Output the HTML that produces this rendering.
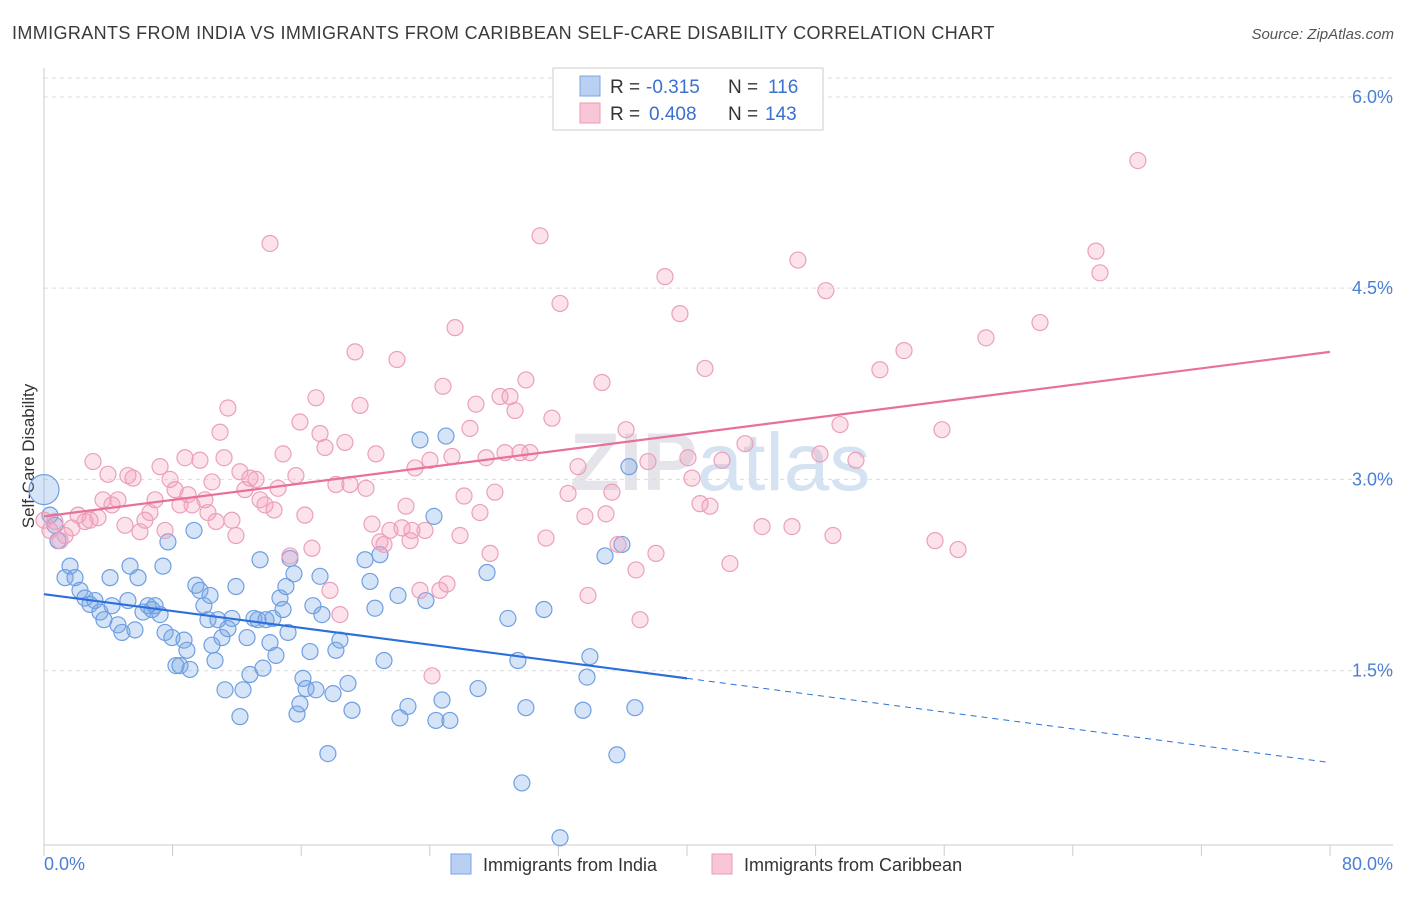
<!DOCTYPE html>
<html><head><meta charset="utf-8"><style>
body{margin:0;background:#fff;font-family:"Liberation Sans",sans-serif}
svg text{font-family:"Liberation Sans",sans-serif}
</style></head><body>
<svg width="1406" height="892" viewBox="0 0 1406 892">
<text x="12" y="39" font-size="18" fill="#3a3a3a" letter-spacing="0.38">IMMIGRANTS FROM INDIA VS IMMIGRANTS FROM CARIBBEAN SELF-CARE DISABILITY CORRELATION CHART</text>
<text x="1394" y="39" font-size="15" fill="#555" font-style="italic" text-anchor="end">Source: ZipAtlas.com</text>
<text x="720" y="490" font-size="82" fill="#e4e4ea" text-anchor="middle" font-family="Liberation Serif" font-weight="bold">ZIP<tspan fill="#d5e2f2" font-family="Liberation Sans" font-weight="normal">atlas</tspan></text>
<g id="grid"></g>
<line x1="44" y1="68" x2="44" y2="845" stroke="#ccc"/>
<line x1="44" y1="845" x2="1393" y2="845" stroke="#ccc"/>
<text transform="translate(34,456) rotate(-90)" font-size="17" fill="#333" text-anchor="middle">Self-Care Disability</text>
<text x="44" y="870" font-size="18" fill="#4a7fd4">0.0%</text>
<text x="1393" y="870" font-size="18" fill="#4a7fd4" text-anchor="end">80.0%</text>
<g id="ylabels"></g>
<g id="pts"></g>
<g id="lines"></g>
<g>
<rect x="553" y="68" width="270" height="62" fill="#fff" stroke="#ccc"/>
<rect x="580" y="76" width="20" height="20" fill="#b9d0f3" stroke="#7aa5e6"/>
<rect x="580" y="103" width="20" height="20" fill="#f8c6d6" stroke="#eb9bb6"/>
<text x="610" y="93" font-size="19" fill="#333">R =</text>
<text x="646" y="93" font-size="19" fill="#3a70d0">-0.315</text>
<text x="728" y="93" font-size="19" fill="#333">N =</text>
<text x="768" y="93" font-size="19" fill="#3a70d0">116</text>
<text x="610" y="120" font-size="19" fill="#333">R =</text>
<text x="649" y="120" font-size="19" fill="#3a70d0">0.408</text>
<text x="728" y="120" font-size="19" fill="#333">N =</text>
<text x="765" y="120" font-size="19" fill="#3a70d0">143</text>
</g>
<g>
<rect x="451" y="854" width="20" height="20" fill="#b9d0f3" stroke="#7aa5e6"/>
<text x="483" y="871" font-size="18" fill="#333">Immigrants from India</text>
<rect x="712" y="854" width="20" height="20" fill="#f8c6d6" stroke="#eb9bb6"/>
<text x="744" y="871" font-size="18" fill="#333">Immigrants from Caribbean</text>
</g>
</svg>
<script>
const yTicks=[1.5,3.0,4.5,6.0];
const yTickLabels=["1.5%","3.0%","4.5%","6.0%"];
const xTicks=[0,8,16,24,32,40,48,56,64,72,80];
const indiaX=[0,.37,.68,.87,1.31,1.62,1.93,2.24,2.55,2.86,3.17,3.48,3.73,4.11,4.23,4.6,4.85,5.22,5.35,5.66,5.85,6.16,6.47,6.72,6.91,7.22,7.4,7.53,7.71,7.96,8.21,8.46,8.71,8.89,9.08,9.33,9.45,9.7,9.95,10.2,10.33,10.45,10.64,10.82,11.07,11.26,11.44,11.69,11.94,12.19,12.38,12.63,12.81,13.06,13.31,13.44,13.62,13.81,14.06,14.24,14.43,14.68,14.87,15.05,15.18,15.3,15.55,15.74,15.92,16.11,16.3,16.55,16.73,16.92,17.17,17.29,17.66,17.98,18.16,18.41,18.91,19.16,19.97,20.28,20.59,20.9,21.15,22.02,22.14,22.64,23.39,23.76,24.26,24.38,24.76,25.01,25.25,27,27.56,28.86,29.48,29.98,29.73,31.1,32.1,33.53,33.78,33.96,34.9,35.64,35.95,36.39,36.76];
const indiaY=[2.92,2.72,2.64,2.52,2.23,2.32,2.23,2.13,2.07,2.02,2.05,1.96,1.9,2.23,2.01,1.86,1.8,2.05,2.32,1.82,2.23,1.96,2.01,1.98,2.01,1.94,2.32,1.8,2.51,1.76,1.54,1.54,1.74,1.66,1.51,2.6,2.17,2.13,2.01,1.9,2.09,1.7,1.58,1.9,1.76,1.35,1.83,1.91,2.16,1.14,1.35,1.76,1.47,1.91,1.9,2.37,1.52,1.9,1.72,1.91,1.62,2.07,1.98,2.16,1.8,2.38,2.26,1.16,1.24,1.44,1.36,1.65,2.01,1.35,2.24,1.94,.85,1.32,1.66,1.74,1.4,1.19,2.37,2.2,1.99,2.41,1.58,2.09,1.13,1.22,3.31,2.05,2.71,1.11,1.27,3.34,1.11,1.36,2.27,1.91,1.58,1.21,.62,1.98,.19,1.19,1.45,1.61,2.4,.84,2.49,3.1,1.21];
const caribX=[0,.37,.68,1,1.31,1.74,2.12,2.55,2.86,3.05,3.36,3.67,3.98,4.23,4.6,5.04,5.22,5.54,5.97,6.28,6.59,6.91,7.22,7.53,7.84,8.15,8.46,8.77,8.96,9.21,9.7,10.01,10.2,10.45,10.7,10.95,11.2,11.44,11.69,11.94,12.19,12.5,12.81,13.19,13.44,13.75,14.06,14.31,14.56,14.87,15.3,15.67,15.92,16.23,16.67,16.92,17.17,17.48,17.79,18.16,18.41,18.72,19.03,19.35,19.66,20.03,20.4,20.65,20.9,21.15,21.52,21.96,22.27,22.52,22.77,22.89,23.08,23.39,23.7,24.01,24.14,24.63,24.82,25.07,25.38,25.57,25.88,26.13,26.5,26.87,27.12,27.5,27.75,28.05,28.37,28.68,28.99,29.3,29.61,29.98,30.23,30.86,31.23,31.6,32.1,32.6,33.22,33.65,33.84,34.71,34.96,35.33,35.71,36.21,36.83,37.08,37.57,38.07,38.63,39.56,40.06,40.31,40.81,41.12,41.43,42.18,42.67,43.61,44.67,46.53,46.9,48.27,48.64,49.08,49.52,50.51,52,53.5,55.43,55.86,56.86,58.6,61.96,65.44,65.69,68.05];
const caribY=[2.68,2.6,2.67,2.52,2.56,2.62,2.72,2.67,2.68,3.14,2.7,2.84,3.04,2.8,2.84,2.64,3.03,3.01,2.59,2.68,2.74,2.84,3.1,2.6,3,2.92,2.8,3.17,2.88,2.8,3.15,2.84,2.74,2.98,2.67,3.37,3.17,3.56,2.68,2.56,3.06,2.92,3.01,3,2.84,2.8,4.85,2.76,2.93,3.2,2.4,3.03,3.45,2.72,2.46,3.64,3.36,3.25,2.13,2.96,1.94,3.29,2.96,4,3.58,2.93,2.65,3.2,2.51,2.49,2.6,3.94,2.62,2.79,2.52,2.6,3.09,2.13,2.6,3.15,1.46,2.13,3.73,2.18,3.18,4.19,2.56,2.87,3.4,3.59,2.74,3.17,2.42,2.9,3.65,3.21,3.65,3.54,3.21,3.78,3.21,4.91,2.54,3.48,4.38,2.89,3.1,2.71,2.09,3.76,2.73,2.9,2.49,3.39,2.29,1.9,3.14,2.42,4.59,4.3,3.17,3.01,2.81,3.87,2.79,3.15,2.34,3.28,2.63,2.63,4.72,3.2,4.48,2.56,3.43,3.15,3.86,4.01,2.52,3.39,2.45,4.11,4.23,4.79,4.62,5.5];
const indiaTrendX=[0,40,80];
const indiaTrendY=[2.1,1.44,0.78];
const caribTrendX=[0,80];
const caribTrendY=[2.71,4.0];

const NS="http://www.w3.org/2000/svg";
const xs=v=>44+v*16.075;
const ys=v=>862-v*127.53;
function mk(tag,attrs,parent){const e=document.createElementNS(NS,tag);for(const k in attrs)e.setAttribute(k,attrs[k]);parent.appendChild(e);return e;}
const grid=document.getElementById('grid'),yl=document.getElementById('ylabels'),pts=document.getElementById('pts'),lines=document.getElementById('lines');
mk('line',{x1:44,y1:78,x2:1393,y2:78,stroke:'#ddd','stroke-dasharray':'4,4'},grid);
yTicks.forEach((t,i)=>{
 const l=mk('line',{x1:44,y1:ys(t),x2:1393,y2:ys(t),stroke:'#ddd','stroke-dasharray':'4,4'},grid);
 
 
 const tx=mk('text',{x:1393,y:ys(t)+6,'font-size':18,fill:'#4a7fd4','text-anchor':'end'},yl);
 tx.textContent=yTickLabels[i];
 
 
});
xTicks.forEach(t=>{
 const l=mk('line',{x1:xs(t),y1:845,x2:xs(t),y2:856,stroke:'#ccc'},grid);
 
 
});
indiaX.forEach((x,i)=>{
 const c=mk('circle',{cx:xs(x),cy:ys(indiaY[i]),r:i===0?15:8,fill:'rgba(120,165,230,0.3)',stroke:'#6f9fe2','stroke-width':1.2},pts);
 
 
});
caribX.forEach((x,i)=>{
 const c=mk('circle',{cx:xs(x),cy:ys(caribY[i]),r:8,fill:'rgba(244,160,190,0.3)',stroke:'#eba0ba','stroke-width':1.2},pts);
 
 
});
const b1=mk('line',{x1:xs(indiaTrendX[0]),y1:ys(indiaTrendY[0]),x2:xs(indiaTrendX[1]),y2:ys(indiaTrendY[1]),stroke:'#2a6fdb','stroke-width':2.2},lines);


const b2=mk('line',{x1:xs(indiaTrendX[1]),y1:ys(indiaTrendY[1]),x2:xs(indiaTrendX[2]),y2:ys(indiaTrendY[2]),stroke:'#2a6fdb','stroke-width':1,'stroke-dasharray':'6,5'},lines);


const p1=mk('line',{x1:xs(caribTrendX[0]),y1:ys(caribTrendY[0]),x2:xs(caribTrendX[1]),y2:ys(caribTrendY[1]),stroke:'#e8709a','stroke-width':2.2},lines);


</script>
</body></html>
